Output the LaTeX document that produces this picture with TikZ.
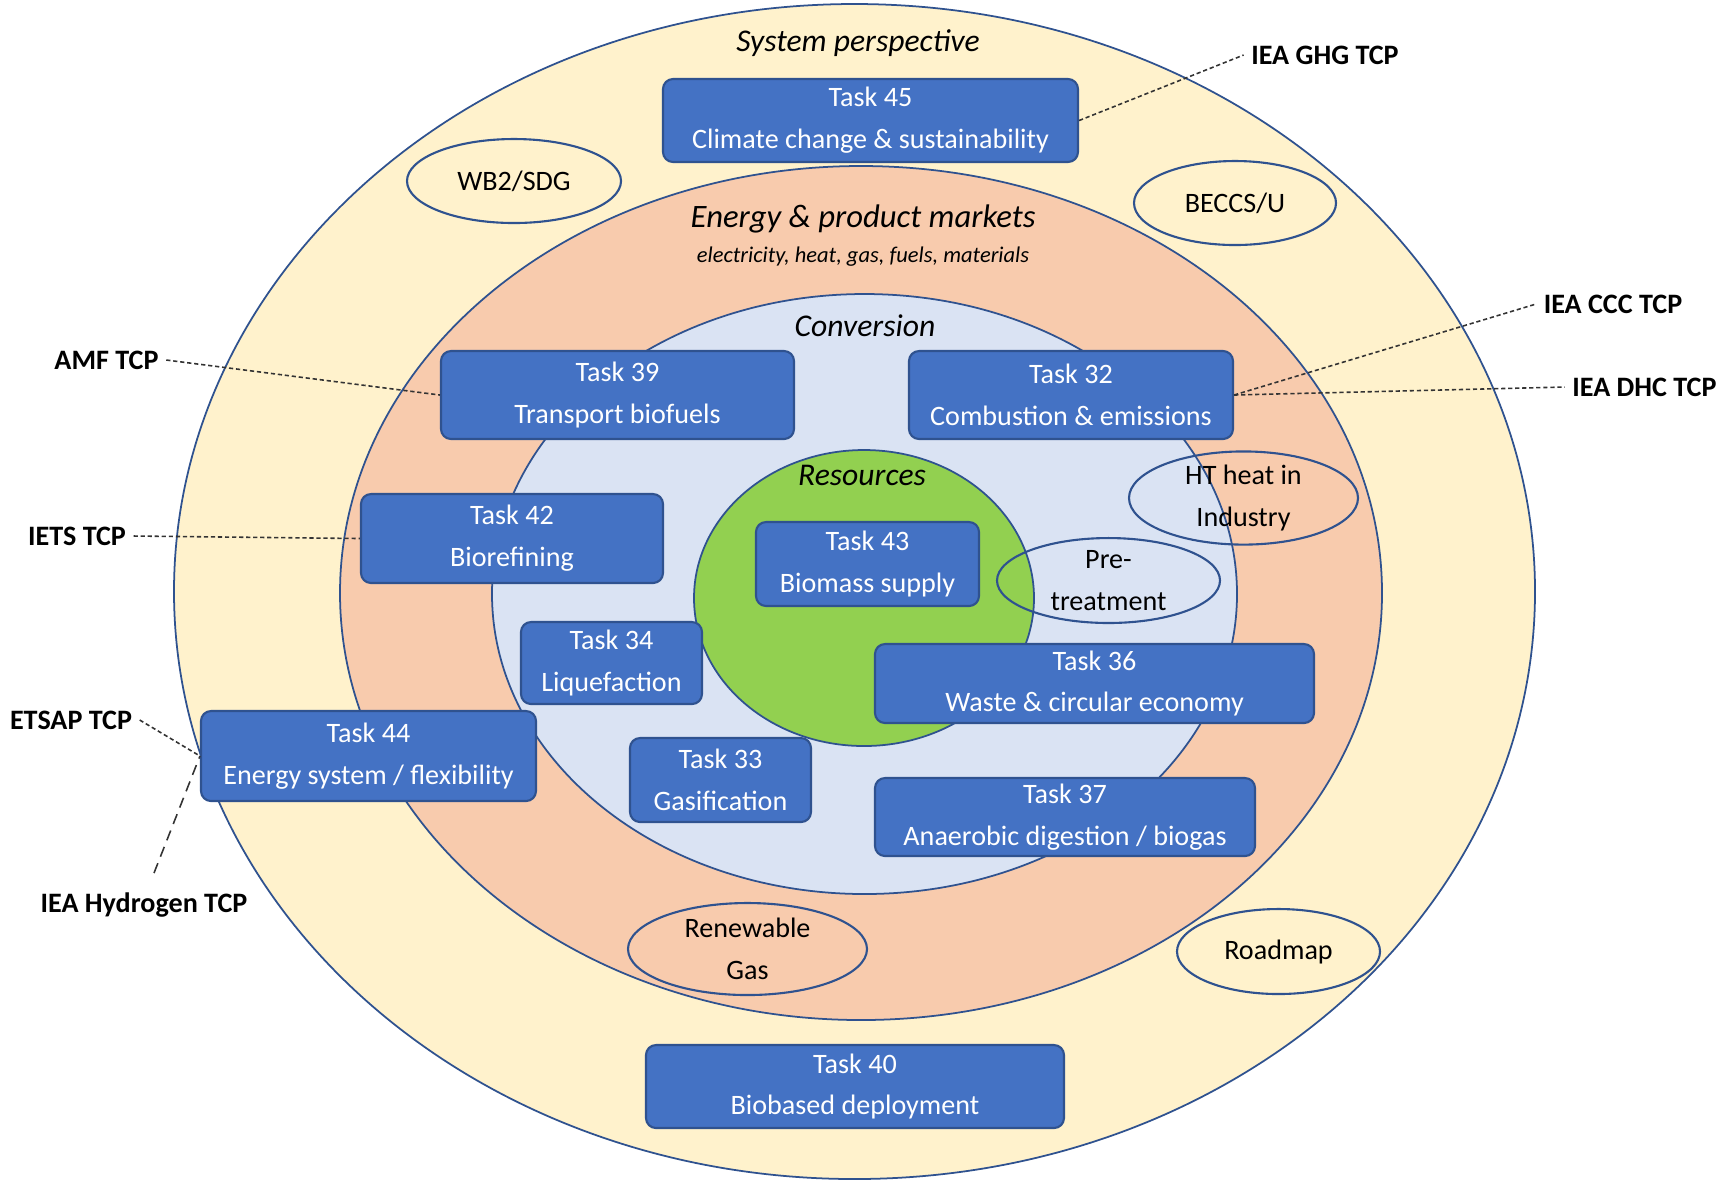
\documentclass[tikz,border=0pt]{standalone}
\usepackage{fontspec}
\setmainfont{Carlito}
\usetikzlibrary{shapes.geometric}
\definecolor{ringyellow}{HTML}{FFF2CC}
\definecolor{ringorange}{HTML}{F8CBAD}
\definecolor{ringblue}{HTML}{DAE3F3}
\definecolor{ringgreen}{HTML}{92D050}
\definecolor{taskblue}{HTML}{4472C4}
\definecolor{taskline}{HTML}{2F528F}

\begin{document}
\begin{tikzpicture}[
    task/.style={draw=taskline,fill=taskblue,text=white,rounded corners=0.1cm,line width=0.6pt,
                 align=center,inner sep=1pt,font=\fontsize{8}{11.9}\selectfont},
    topic/.style={draw=taskline,ellipse,line width=0.6pt,align=center,inner sep=0pt,
                  font=\fontsize{8}{11.9}\selectfont},
    tcp/.style={font=\bfseries\fontsize{8}{10}\selectfont,inner sep=2pt},
    level/.style={font=\itshape\fontsize{9}{11}\selectfont},
    ring/.style={draw=taskline,line width=0.5pt},
    link/.style={line width=0.45pt,black!80,dash pattern=on 1.2pt off 0.8pt}]
    \useasboundingbox (0,0) rectangle (17.21,-11.82);
    \draw[ring,fill=ringyellow] (8.545,-5.915) ellipse [x radius=6.805,y radius=5.875];
    \draw[ring,fill=ringorange] (8.61,-5.93) ellipse [x radius=5.21,y radius=4.27];
    \draw[ring,fill=ringblue] (8.645,-5.94) ellipse [x radius=3.725,y radius=3.00];
    \draw[ring,fill=ringgreen] (8.64,-5.98) ellipse [x radius=1.70,y radius=1.48];
    \node[level] (sys) at (8.58,-0.43) {System perspective};
    \node[level,font=\itshape\fontsize{9.3}{11}\selectfont] (mkt) at (8.63,-2.19) {Energy \& product markets};
    \node[level,font=\itshape\fontsize{6.4}{8}\selectfont] (mktsub) at (8.63,-2.57) {electricity, heat, gas, fuels, materials};
    \node[level] (conv) at (8.65,-3.26) {Conversion};
    \node[level] (res) at (8.62,-4.75) {Resources};
    \node[task,minimum width=4.15cm,minimum height=0.83cm] (t45) at (8.705,-1.205) {Task 45\\Climate change \& sustainability};
    \node[task,minimum width=3.53cm,minimum height=0.88cm] (t39) at (6.175,-3.95) {Task 39\\Transport biofuels};
    \node[task,minimum width=3.24cm,minimum height=0.88cm] (t32) at (10.71,-3.95) {Task 32\\Combustion \& emissions};
    \node[task,minimum width=3.02cm,minimum height=0.89cm] (t42) at (5.12,-5.385) {Task 42\\Biorefining};
    \node[task,minimum width=2.23cm,minimum height=0.84cm] (t43) at (8.675,-5.64) {Task 43\\Biomass supply};
    \node[task,minimum width=1.81cm,minimum height=0.82cm] (t34) at (6.115,-6.63) {Task 34\\Liquefaction};
    \node[task,minimum width=4.39cm,minimum height=0.79cm] (t36) at (10.945,-6.835) {Task 36\\Waste \& circular economy};
    \node[task,minimum width=3.35cm,minimum height=0.90cm] (t44) at (3.685,-7.56) {Task 44\\Energy system / flexibility};
    \node[task,minimum width=1.81cm,minimum height=0.84cm] (t33) at (7.205,-7.80) {Task 33\\Gasification};
    \node[task,minimum width=3.80cm,minimum height=0.78cm] (t37) at (10.65,-8.17) {Task 37\\Anaerobic digestion / biogas};
    \node[task,minimum width=4.18cm,minimum height=0.83cm] (t40) at (8.55,-10.865) {Task 40\\Biobased deployment};
    \node[topic,minimum width=2.14cm,minimum height=0.84cm] (wb2) at (5.14,-1.81) {WB2/SDG};
    \node[topic,minimum width=2.02cm,minimum height=0.84cm] (beccs) at (12.35,-2.03) {BECCS/U};
    \node[topic,minimum width=2.29cm,minimum height=0.90cm] (htheat) at (12.435,-4.98) {HT heat in\\Industry};
    \node[topic,minimum width=2.23cm,minimum height=0.81cm] (pretr) at (11.085,-5.805) {Pre-\\treatment};
    \node[topic,minimum width=2.39cm,minimum height=0.92cm] (rgas) at (7.475,-9.49) {Renewable\\Gas};
    \node[topic,minimum width=2.03cm,minimum height=0.85cm] (roadmap) at (12.785,-9.515) {Roadmap};
    \node[tcp] (ghg) at (13.25,-0.55) {IEA GHG TCP};
    \node[tcp] (ccc) at (16.13,-3.04) {IEA CCC TCP};
    \node[tcp] (dhc) at (16.445,-3.87) {IEA DHC TCP};
    \node[tcp] (amf) at (1.065,-3.60) {AMF TCP};
    \node[tcp] (iets) at (0.77,-5.36) {IETS TCP};
    \node[tcp] (etsap) at (0.71,-7.20) {ETSAP TCP};
    \node[tcp] (h2) at (1.44,-9.05) {IEA Hydrogen TCP};
    \draw[link] (t45.east)--(ghg.west);
    \draw[link] (t32.east)--(ccc.west);
    \draw[link] (t32.east)--(dhc.west);
    \draw[link] (amf.east)--(t39.west);
    \draw[link] (iets.east)--(t42.west);
    \draw[link] (etsap.east)--(t44.west);
    \draw[link,dash pattern=on 3pt off 2pt] ([shift={(0.1,0.12)}]h2.north)--(t44.west);
  \end{tikzpicture}
\end{document}
